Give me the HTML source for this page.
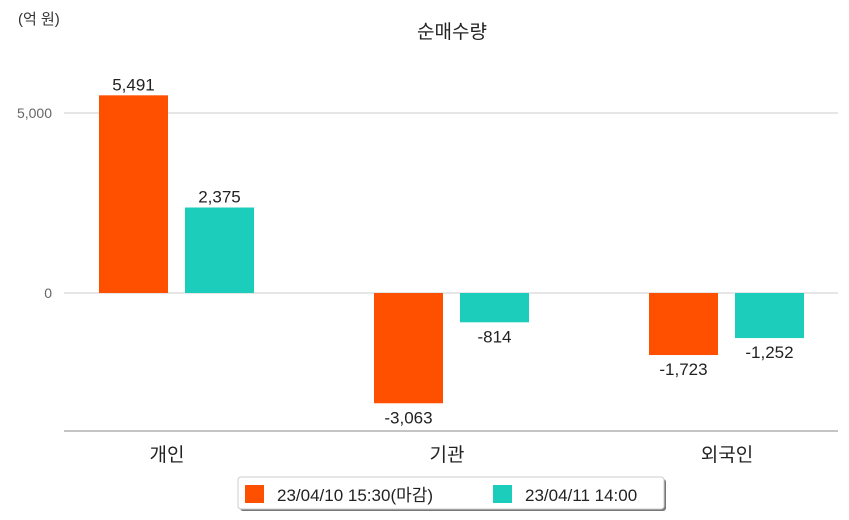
<!DOCTYPE html>
<html><head><meta charset="utf-8"><style>
html,body{margin:0;padding:0;background:#fff;}
svg{display:block;font-family:"Liberation Sans","Noto Sans CJK KR",sans-serif;}
</style></head><body>
<svg id="chart" width="849" height="520">
<text x="18" y="24" font-size="15" fill="#333">(억 원)</text>
<text x="452" y="38" font-size="19" fill="#222" text-anchor="middle">순매수량</text>
<g id="grid"></g>
<g id="bars"></g>
<line x1="64" x2="838" y1="431" y2="431" stroke="#888" stroke-width="1"/>
<g id="xlabels"></g>
<g>
<rect x="240" y="479" width="426" height="32" fill="#777" rx="3"/>
<rect x="238" y="477" width="426" height="32" fill="#fff" stroke="#ccc" rx="3"/>
<rect x="245" y="485" width="19" height="18" fill="#ff5000"/>
<text x="277" y="501" font-size="17" fill="#222">23/04/10 15:30(마감)</text>
<rect x="493" y="485" width="19" height="18" fill="#1ccdbb"/>
<text x="525" y="501" font-size="17" fill="#222">23/04/11 14:00</text>
</g>
</svg>
<script>
const categories=["개인","기관","외국인"];
const series1=[5491,-3063,-1723];
const series2=[2375,-814,-1252];
const yTicks=[0,5000];
const yTickLabels=["0","5,000"];
const colors=["#ff5000","#1ccdbb"];
const NS="http://www.w3.org/2000/svg";
function y(v){return 293-v*0.036;}
function xc(i){return 177+i*275;}
function fmt(v){return (v<0?"-":"")+Math.abs(v).toLocaleString("en-US");}
function mk(tag,a){const e=document.createElementNS(NS,tag);for(const k in a)e.setAttribute(k,a[k]);return e;}
const grid=document.getElementById("grid");
yTicks.forEach((t,i)=>{
 const l=mk("line",{x1:64,x2:838,y1:y(t),y2:y(t),stroke:"#ccc"});
 
 
 grid.appendChild(l);
 const tx=mk("text",{x:52,y:y(t)+5,"font-size":14,fill:"#666","text-anchor":"end"});
 tx.textContent=yTickLabels[i];
 
 
 grid.appendChild(tx);
});
const bars=document.getElementById("bars");
[series1,series2].forEach((s,si)=>{
 s.forEach((v,i)=>{
  const x=xc(i)+(si===0?-78:8);
  const top=Math.min(y(v),y(0)),h=Math.abs(y(v)-y(0));
  const r=mk("rect",{x:x,y:top,width:69,height:h,fill:colors[si]});
  
  
  bars.appendChild(r);
  const t=mk("text",{x:x+34.5,y:v>=0?y(v)-5:y(v)+20,"font-size":17,fill:"#222","text-anchor":"middle"});
  t.textContent=fmt(v);
  
  
  bars.appendChild(t);
 });
});
const xl=document.getElementById("xlabels");
categories.forEach((c,i)=>{
 const t=mk("text",{x:xc(i)-10+i*5,y:461,"font-size":19,fill:"#222","text-anchor":"middle"});
 t.textContent=c;
 
 
 xl.appendChild(t);
});
</script>
</body></html>
